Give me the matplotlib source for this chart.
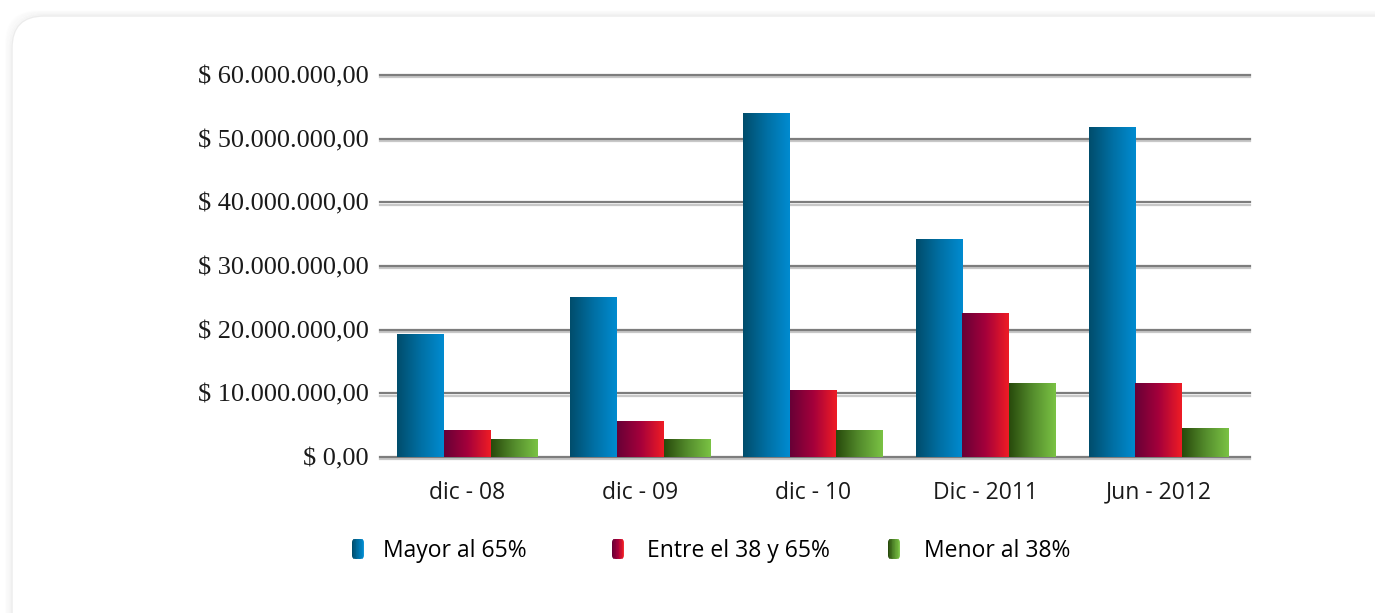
import numpy as np
import matplotlib
matplotlib.use('Agg')
import matplotlib.pyplot as plt
import matplotlib.patheffects as pe
from matplotlib.colors import LinearSegmentedColormap
from matplotlib.patches import Rectangle, FancyBboxPatch
from matplotlib.legend_handler import HandlerBase
from matplotlib.ticker import FuncFormatter

# data
categories = ['dic - 08', 'dic - 09', 'dic - 10', 'Dic - 2011', 'Jun - 2012']
mayor_65 = [19.2e6, 25.0e6, 54.0e6, 34.2e6, 51.7e6]
entre_38_65 = [4.2e6, 5.5e6, 10.5e6, 22.5e6, 11.5e6]
menor_38 = [2.8e6, 2.8e6, 4.1e6, 11.6e6, 4.5e6]
series_names = ['Mayor al 65%', 'Entre el 38 y 65%', 'Menor al 38%']
yticks = [0, 10e6, 20e6, 30e6, 40e6, 50e6, 60e6]

cmaps = [
    LinearSegmentedColormap.from_list('blu', ['#004d6c', '#006fa3', '#008bd0']),
    LinearSegmentedColormap.from_list('red', ['#680036', '#a4003b', '#ee1c25']),
    LinearSegmentedColormap.from_list('grn', ['#284a0c', '#548c2c', '#7ac244']),
]


class GradHandler(HandlerBase):
    def __init__(self, cmap):
        super().__init__()
        self.cmap = cmap

    def create_artists(self, legend, orig_handle, xdescent, ydescent,
                       width, height, fontsize, trans):
        h = height * 1.35
        y0 = -ydescent - (h - height) / 2
        clip = FancyBboxPatch((-xdescent, y0), width, h,
                              boxstyle='round,pad=0,rounding_size=2.5',
                              transform=trans)
        n = 16
        arts = []
        for i in range(n):
            r = Rectangle((-xdescent + width * i / n, y0), width / n * 1.1, h,
                          facecolor=self.cmap(i / (n - 1)), edgecolor='none',
                          transform=trans)
            r.set_clip_path(clip)
            arts.append(r)
        return arts


fig = plt.figure(figsize=(13.75, 6.13), dpi=100)
fig.patch.set_facecolor('white')

# rounded panel with soft shadow
for k, a in zip(range(6, 0, -1), [0.02, 0.03, 0.04, 0.05, 0.07, 0.09]):
    sh = FancyBboxPatch((0.12 - k * 0.01, -1), 14.5, 5.97 + 1 + k * 0.008,
                        boxstyle='round,pad=0,rounding_size=0.32',
                        transform=fig.dpi_scale_trans, facecolor='none',
                        edgecolor='#b0b0b0', lw=1.2, alpha=a, zorder=-2)
    fig.add_artist(sh)
panel = FancyBboxPatch((0.12, -1), 14.5, 5.97 + 1,
                       boxstyle='round,pad=0,rounding_size=0.32',
                       transform=fig.dpi_scale_trans, facecolor='white',
                       edgecolor='#ececec', lw=1, zorder=-1)
fig.add_artist(panel)

ax = fig.add_axes([381 / 1375, 1 - 457 / 613, 864 / 1375, 382 / 613])
ax.set_facecolor('none')

x = np.arange(len(categories))
w = 0.27
values = [mayor_65, entre_38_65, menor_38]
for j, (vals, cm) in enumerate(zip(values, cmaps)):
    bars = ax.bar(x + (j - 1) * w, vals, w, color='none', zorder=3)
    grad = np.linspace(0, 1, 64).reshape(1, -1)
    for p in bars:
        bx, by = p.get_xy()
        ax.imshow(grad, extent=[bx, bx + p.get_width(), by, by + p.get_height()],
                  aspect='auto', cmap=cm, zorder=3, interpolation='bilinear')

ax.set_xlim(-0.5, len(categories) - 0.5)
ax.set_ylim(0, 60e6)

shadow = [pe.SimpleLineShadow(offset=(0, -1.6), shadow_color='#c8c8c8', alpha=1),
          pe.Normal()]
for yv in yticks:
    ax.axhline(yv, xmin=-1 / 864, xmax=869 / 864, color='#7d7d7d', lw=1.6,
               zorder=1, clip_on=False, path_effects=shadow)

for s in ax.spines.values():
    s.set_visible(False)

ax.set_yticks(yticks)
ax.yaxis.set_major_formatter(FuncFormatter(
    lambda v, pos: '$ ' + f'{v:,.2f}'.replace(',', 'X').replace('.', ',').replace('X', '.')))
ax.set_xticks(x)
ax.set_xticklabels(categories, fontfamily='Open Sans', fontsize=16.5, color='#1a1a1a')
for t in ax.get_yticklabels():
    t.set_fontfamily('Liberation Serif')
    t.set_fontsize(19)
    t.set_color('#1a1a1a')
ax.tick_params(axis='y', length=0, pad=9)
ax.tick_params(axis='x', length=0, pad=17)

# three single-entry legends, as the original spaces them unevenly
leg_x = [352, 612, 888]
leg_pad = [0.85, 1.02, 1.06]
for name, cm, lx, tp in zip(series_names, cmaps, leg_x, leg_pad):
    h = Rectangle((0, 0), 1, 1)
    fig.legend([h], [name], handler_map={h: GradHandler(cm)},
               loc='center left', bbox_to_anchor=(lx / 1375, 1 - 551 / 613),
               frameon=False, prop={'family': 'Open Sans', 'size': 16.5},
               handlelength=0.52, handleheight=0.62, handletextpad=tp,
               borderpad=0, borderaxespad=0)

fig.savefig('out.png', dpi=100, facecolor='white')
